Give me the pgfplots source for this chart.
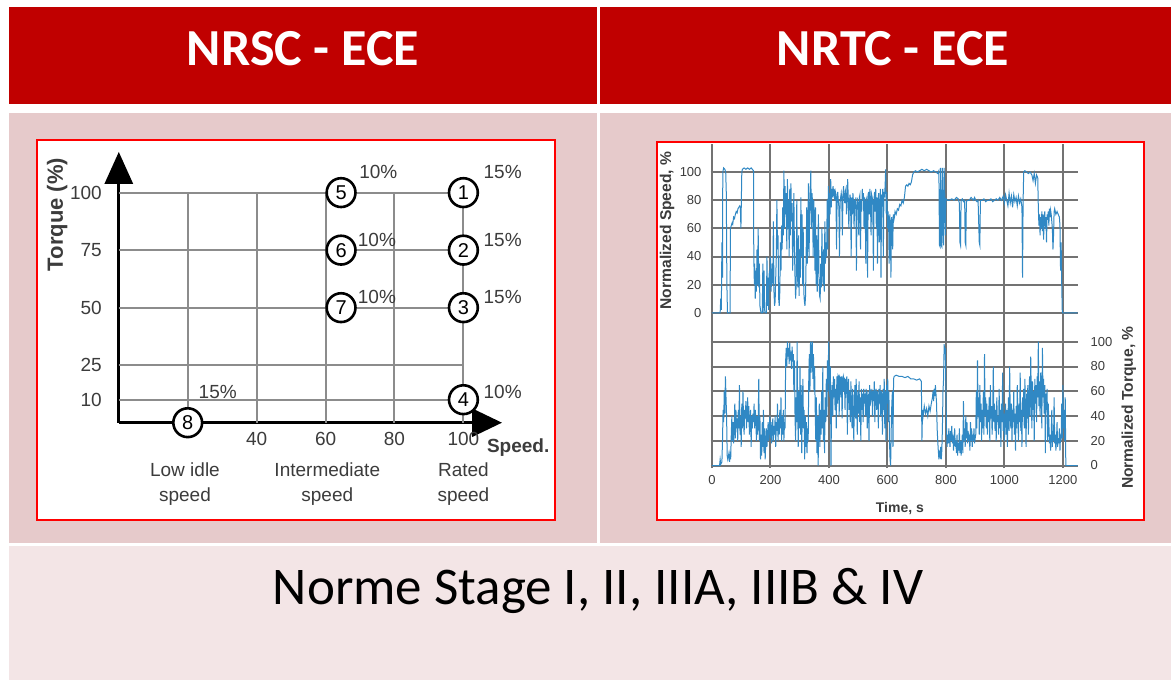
\documentclass[border=0pt]{standalone}
\usepackage{pgfplots}
\pgfplotsset{compat=1.18}
\usepackage{fontspec}
\setmainfont{Liberation Sans}
\newfontfamily\calibri{Carlito}
\usetikzlibrary{arrows.meta}
\definecolor{hdrred}{HTML}{C00000}
\definecolor{cellpink}{HTML}{E6CACB}
\definecolor{bandpink}{HTML}{F3E5E6}
\definecolor{traceblue}{HTML}{3088C4}
\definecolor{boxred}{HTML}{FF0000}
\definecolor{labgray}{HTML}{3C3C3C}

\begin{document}
\begin{tikzpicture}[x=0.5pt,y=0.5pt]
\fill[white] (0,0) rectangle (1171,680);
\fill[hdrred] (9,576) rectangle (597,673);
\fill[hdrred] (600,576) rectangle (1171,673);
\fill[cellpink] (9,137) rectangle (597,567);
\fill[cellpink] (600,137) rectangle (1171,567);
\fill[bandpink] (9,0) rectangle (1171,134);
\filldraw[fill=white,draw=boxred,line width=1.2pt] (37,160) rectangle (555,540);
\filldraw[fill=white,draw=boxred,line width=1.2pt] (657,160) rectangle (1144,538);
\node[anchor=base,text=white,font=\calibri\bfseries\fontsize{26}{30}\selectfont] at (303,614) {NRSC - ECE};
\node[anchor=base,text=white,font=\calibri\bfseries\fontsize{26}{30}\selectfont] at (893,614) {NRTC - ECE};
\node[anchor=base,text=black,font=\calibri\fontsize{26.5}{30}\selectfont] at (598,76) {Norme Stage I, II, IIIA, IIIB \& IV};

% ---------------- NRSC chart ----------------
\begin{axis}[
  at={(59.4pt,128.65pt)}, anchor=south west, scale only axis,
  width=191.6pt, height=135.4pt,
  xmin=0, xmax=111.2, ymin=0, ymax=117.7,
  axis lines=left,
  axis line style={line width=1.5pt, black},
  x axis line style={-{Triangle[length=15pt,width=14pt]}},
  y axis line style={-{Triangle[length=16pt,width=14pt]}},
  xtick={40,60,80,100}, ytick={10,25,50,75,100},
  major tick length=0pt, tick style={draw=none},
  ticklabel style={font=\fontsize{9.5}{11}\selectfont, text=labgray},
  /pgf/number format/assume math mode=true,
  yticklabel style={xshift=-5pt},
  xticklabel style={yshift=-1pt},
  clip=false,
]
\draw[black!45, line width=1pt] (axis cs:20,0) -- (axis cs:20,100);
\draw[black!45, line width=1pt] (axis cs:40,0) -- (axis cs:40,100);
\draw[black!45, line width=1pt] (axis cs:60,0) -- (axis cs:60,100);
\draw[black!45, line width=1pt] (axis cs:80,0) -- (axis cs:80,100);
\draw[black!45, line width=1pt] (axis cs:100,0) -- (axis cs:100,100);
\draw[black!45, line width=1pt] (axis cs:0,10) -- (axis cs:100,10);
\draw[black!45, line width=1pt] (axis cs:0,25) -- (axis cs:100,25);
\draw[black!45, line width=1pt] (axis cs:0,50) -- (axis cs:100,50);
\draw[black!45, line width=1pt] (axis cs:0,75) -- (axis cs:100,75);
\draw[black!45, line width=1pt] (axis cs:0,100) -- (axis cs:100,100);
\addplot[only marks, mark=*, mark size=7.2pt,
  mark options={fill=white, draw=black, line width=1.3pt},
  nodes near coords, point meta=explicit symbolic,
  every node near coord/.append style={anchor=center, font=\fontsize{10}{12}\selectfont, text=black}]
  table[meta=lab]{
x y lab
100 100 1
100 75 2
100 50 3
100 10 4
64.5 100 5
64.5 75 6
64.5 50 7
20 0 8
};
\node[font=\fontsize{9.5}{11}\selectfont, text=labgray] at (axis cs:75.3,108.8) {10\%};
\node[font=\fontsize{9.5}{11}\selectfont, text=labgray] at (axis cs:74.9,79.6) {10\%};
\node[font=\fontsize{9.5}{11}\selectfont, text=labgray] at (axis cs:74.9,54.7) {10\%};
\node[font=\fontsize{9.5}{11}\selectfont, text=labgray] at (axis cs:111.4,109) {15\%};
\node[font=\fontsize{9.5}{11}\selectfont, text=labgray] at (axis cs:111.4,79.6) {15\%};
\node[font=\fontsize{9.5}{11}\selectfont, text=labgray] at (axis cs:111.4,54.7) {15\%};
\node[font=\fontsize{9.5}{11}\selectfont, text=labgray] at (axis cs:111.4,13.4) {10\%};
\node[font=\fontsize{9.5}{11}\selectfont, text=labgray] at (axis cs:28.7,13.4) {15\%};
\node[rotate=90, font=\bfseries\fontsize{11}{13}\selectfont, text=labgray] at (axis cs:-17.9,90.5) {Torque (\%)};
\node[font=\bfseries\fontsize{9.5}{11}\selectfont, text=labgray] at (axis cs:115.9,-11) {Speed.};
\node[align=center, font=\fontsize{9.5}{12.5}\selectfont, text=labgray] at (axis cs:19.2,-26.7) {Low idle\\speed};
\node[align=center, font=\fontsize{9.5}{12.5}\selectfont, text=labgray] at (axis cs:60.5,-26.7) {Intermediate\\speed};
\node[align=center, font=\fontsize{9.5}{12.5}\selectfont, text=labgray] at (axis cs:100,-26.7) {Rated\\speed};
\end{axis}

% ---------------- NRTC chart: speed ----------------
\begin{axis}[
  at={(355.25pt,181.5pt)}, anchor=south west, scale only axis,
  width=183.5pt, height=86.5pt,
  xmin=-5, xmax=1250, ymin=-3, ymax=120,
  axis line style={draw=none}, tick style={draw=none},
  xtick={0,200,...,1200}, xticklabels={},
  ytick={0,20,...,100},
  grid=major, major grid style={black!55, line width=1pt},
  ticklabel style={font=\fontsize{6.5}{8}\selectfont, text=labgray},
  /pgf/number format/assume math mode=true,
  /pgf/number format/1000 sep={},
  yticklabel style={xshift=-1pt},
  ylabel={Normalized Speed, \%},
  every axis y label/.style={at={(axis description cs:-0.1185,0.5)}, rotate=90, anchor=center,
    font=\bfseries\fontsize{7.8}{9}\selectfont, text=labgray},
]
\addplot[traceblue, line width=0.5pt] table {
t v
0 0
20 0
28 0
30 10
32 2
34 50
36 25
37 100
40 103
44 102
47 100
49 85
51 20
53 0
62 0
63 60
66 62
69 64
71 63
74 68
77 67
80 70
83 72
86 71
89 74
92 75
95 76
97 75
99 60
102 100
104 102
110 103
116 102
122 103
128 102
134 103
138 102
142 101
143 40
145 20
146 35
148 10
150 30
152 15
154 45
156 20
158 60
160 18
162 35
164 5
166 2
168 0
172 0
174 35
175 0
178 30
180 2
182 0
186 0
188 40
190 5
192 25
194 2
196 30
198 20
200 40
202 15
204 25
206 35
208 20
210 65
212 15
214 5
216 8
218 25
220 40
222 80
224 45
226 55
228 10
230 5
232 15
234 50
236 30
238 62
240 45
242 75
244 55
246 101
248 60
250 90
252 70
254 85
256 45
258 95
260 60
262 80
264 40
266 88
268 55
270 92
272 65
274 78
276 30
278 62
280 85
282 45
284 25
286 10
288 20
290 80
292 30
294 18
296 55
298 12
300 45
302 25
304 82
306 40
308 70
310 20
312 60
314 15
316 8
318 5
320 12
322 40
324 75
326 35
328 60
330 92
332 40
334 70
336 85
338 101
340 60
342 85
344 78
346 40
348 80
350 65
352 30
354 75
356 20
358 55
360 15
362 45
364 70
366 25
368 12
370 10
372 35
374 18
376 60
378 30
380 20
382 45
384 15
386 65
388 35
390 50
392 40
394 80
396 45
398 90
400 60
402 85
404 70
406 95
408 75
410 88
412 82
414 90
416 85
418 88
420 80
422 86
424 84
426 45
428 82
430 86
432 80
434 75
436 40
438 78
440 82
442 85
444 80
446 55
448 84
450 90
452 82
454 78
456 86
458 88
460 70
462 80
464 95
466 82
468 60
470 78
472 84
474 80
476 40
478 82
480 70
482 85
484 78
486 60
488 80
490 76
492 82
494 30
496 75
498 80
500 78
502 55
504 82
506 84
508 45
510 80
512 72
514 88
516 80
518 85
520 60
522 82
524 78
526 35
528 80
530 82
532 25
534 78
536 86
538 70
540 88
542 80
544 55
546 84
548 82
550 78
552 30
554 80
556 86
558 72
560 88
562 60
564 82
566 35
568 80
570 85
572 50
574 78
576 88
578 25
580 84
582 80
584 88
586 40
588 86
590 82
592 90
594 102
596 70
598 86
600 60
602 72
604 65
606 35
608 70
610 62
612 25
614 68
616 64
618 45
620 70
622 66
624 68
626 72
630 70
634 74
638 73
642 77
646 76
650 80
654 78
658 82
662 90
666 91
670 90
674 92
678 91
682 93
686 98
690 100
696 101
702 100
710 101
718 102
726 101
734 102
742 101
750 100
758 101
766 100
772 99
776 101
778 48
780 47
782 103
784 48
786 47
788 103
790 60
792 48
794 103
796 85
798 55
800 81
806 80
812 80
820 81
828 80
836 82
842 81
846 78
848 50
850 48
852 80
856 81
860 79
864 80
866 50
868 48
870 79
874 80
880 80
886 82
890 81
894 80
898 82
902 80
906 79
910 80
914 50
916 48
918 80
924 80
930 81
936 79
942 80
948 80
954 81
960 79
966 80
972 81
978 80
984 82
990 80
996 83
1000 78
1004 84
1008 80
1012 76
1016 85
1020 78
1024 83
1028 75
1032 84
1036 79
1040 82
1044 76
1048 83
1052 78
1056 81
1060 75
1062 25
1064 80
1066 100
1070 101
1076 100
1082 99
1088 100
1094 98
1098 94
1102 99
1106 92
1110 98
1114 96
1116 75
1118 62
1120 70
1122 55
1124 68
1126 60
1128 72
1130 58
1132 70
1134 52
1136 66
1138 72
1140 60
1142 68
1144 50
1146 70
1148 66
1150 72
1152 62
1154 74
1156 68
1158 73
1160 70
1162 65
1164 60
1166 45
1168 55
1170 72
1172 74
1176 70
1180 72
1184 70
1188 68
1190 62
1192 30
1194 50
1196 20
1198 0
1250 0
};
\end{axis}

% ---------------- NRTC chart: torque ----------------
\begin{axis}[
  at={(355.25pt,106pt)}, anchor=south west, scale only axis,
  width=183.5pt, height=75.5pt,
  xmin=-5, xmax=1250, ymin=-2, ymax=120,
  axis line style={draw=none}, tick style={draw=none},
  xtick={0,200,...,1200},
  ytick={0,20,...,100},
  yticklabel pos=right,
  grid=major, major grid style={black!55, line width=1pt},
  ticklabel style={font=\fontsize{6.5}{8}\selectfont, text=labgray},
  /pgf/number format/assume math mode=true,
  /pgf/number format/1000 sep={},
  yticklabel style={xshift=3pt},
  xticklabel style={yshift=0pt},
  ylabel={Normalized Torque, \%},
  every axis y label/.style={at={(axis description cs:1.14,0.4)}, rotate=90, anchor=center,
    font=\bfseries\fontsize{7.8}{9}\selectfont, text=labgray},
  xlabel={Time, s},
  every axis x label/.style={at={(axis description cs:0.516,-0.265)}, anchor=center,
    font=\bfseries\fontsize{7}{9}\selectfont, text=labgray},
]
\addplot[traceblue, line width=0.5pt] table {
t v
0 0
26 0
28 5
30 1
34 3
36 20
38 45
40 35
42 60
44 42
46 72
48 55
50 40
52 8
54 5
58 10
60 3
62 8
64 5
66 25
68 40
70 20
72 35
74 18
76 28
78 50
80 22
82 45
84 30
86 38
88 20
90 45
92 30
94 65
96 25
98 40
100 15
102 50
104 30
106 60
108 35
110 25
112 45
114 38
116 52
118 30
120 42
122 55
124 35
126 48
128 25
130 38
132 45
134 15
136 40
138 30
140 42
142 35
144 50
146 30
148 45
150 38
152 20
154 40
156 25
158 35
160 70
162 20
164 40
166 5
168 25
170 8
172 35
174 15
176 45
178 10
180 30
182 5
184 20
186 30
188 15
190 25
192 35
194 20
196 30
198 40
200 22
202 35
204 18
206 28
208 38
210 20
212 32
214 25
216 40
218 15
220 35
222 28
224 50
226 20
228 38
230 25
232 45
234 30
236 55
238 20
240 40
242 25
244 45
246 20
248 35
250 30
252 85
254 95
256 80
258 100
260 88
262 95
264 82
266 99
268 85
270 92
272 78
274 96
276 84
278 90
280 60
282 85
284 40
286 20
288 55
290 35
291 100
293 50
295 15
297 60
299 30
301 80
303 25
305 65
307 10
309 50
311 70
313 30
315 45
317 5
319 40
321 15
323 35
325 10
327 30
329 20
331 70
333 90
335 60
337 100
339 75
341 95
343 100
345 70
347 90
349 60
351 80
353 45
355 20
357 55
359 10
361 40
363 0
365 30
367 50
369 15
371 45
373 25
375 60
377 30
379 80
381 20
383 45
385 10
387 55
389 35
391 70
393 40
395 85
397 60
399 100
401 75
403 55
405 80
407 0
409 50
411 65
413 40
415 72
417 55
419 70
421 45
423 62
425 30
427 72
429 50
431 73
433 72
435 40
437 72
439 71
441 55
443 72
445 38
447 70
449 72
451 60
453 71
455 45
457 70
459 58
461 72
463 25
465 65
467 70
469 45
471 60
473 35
475 68
477 50
479 30
481 62
483 40
485 20
487 55
489 65
491 38
493 70
495 48
497 25
499 60
501 42
503 68
505 35
507 55
509 20
511 62
513 45
515 58
517 35
519 62
521 50
523 58
525 40
527 62
529 55
531 30
533 60
535 52
537 20
539 65
541 48
543 58
545 55
547 62
549 40
551 60
553 52
555 68
557 35
559 58
561 62
563 45
565 60
567 55
569 30
571 62
573 50
575 65
577 40
579 60
581 55
583 25
585 62
587 45
589 70
591 30
593 60
595 20
597 65
599 50
601 70
603 35
605 60
607 20
609 5
611 0
613 30
615 50
617 60
619 15
621 70
623 72
630 73
640 72
650 72
660 71
670 72
680 70
690 70
700 69
710 70
716 68
718 20
720 45
722 40
726 48
730 42
734 46
738 40
742 48
746 44
750 50
754 55
756 60
758 52
760 62
762 56
764 65
766 58
768 50
770 30
772 20
774 12
776 5
778 10
780 8
782 15
784 5
786 12
788 30
790 60
792 70
794 98
796 90
798 95
800 60
802 30
804 15
806 25
808 18
810 30
812 22
814 15
816 28
818 20
820 32
822 18
824 25
826 12
828 22
830 30
832 15
834 20
836 10
838 25
840 8
842 18
844 12
846 30
848 10
850 20
852 8
854 15
856 25
858 10
860 52
862 20
864 30
866 15
868 40
870 22
872 35
874 18
876 28
878 20
880 25
882 12
884 35
886 20
888 30
890 15
892 25
894 20
896 30
898 18
900 22
902 25
904 60
906 30
908 85
910 40
912 55
914 25
916 65
918 35
920 50
922 20
924 45
926 30
928 60
930 25
932 90
934 40
936 55
938 30
940 50
942 25
944 45
946 35
948 55
950 20
952 65
954 38
956 48
958 25
960 42
962 80
964 35
966 50
968 28
970 45
972 20
974 55
976 35
978 40
980 25
982 62
984 30
986 45
988 15
990 50
992 35
994 75
996 28
998 42
1000 20
1002 38
1004 50
1006 25
1008 45
1010 15
1012 35
1014 55
1016 28
1018 80
1020 40
1022 30
1024 50
1026 20
1028 45
1030 35
1032 60
1034 25
1036 42
1038 12
1040 48
1042 30
1044 65
1046 38
1048 20
1050 50
1052 35
1054 75
1056 28
1058 45
1060 15
1062 55
1064 40
1066 62
1068 30
1070 70
1072 45
1074 15
1076 58
1078 38
1080 65
1082 25
1084 50
1086 72
1088 40
1090 88
1092 55
1094 30
1096 68
1098 45
1100 60
1102 20
1104 70
1106 50
1108 65
1110 35
1112 72
1114 55
1116 100
1118 48
1120 68
1122 40
1124 75
1126 58
1128 30
1130 95
1132 55
1134 70
1136 42
1138 65
1140 10
1142 58
1144 45
1146 62
1148 20
1150 50
1152 35
1154 18
1156 25
1158 12
1160 22
1162 45
1164 15
1166 28
1168 20
1170 55
1172 18
1174 25
1176 12
1178 20
1180 35
1182 15
1184 22
1186 18
1188 30
1190 12
1192 25
1194 20
1196 50
1198 22
1200 65
1202 30
1204 45
1206 20
1208 55
1210 0
1250 0
};
\end{axis}
\end{tikzpicture}
\end{document}
